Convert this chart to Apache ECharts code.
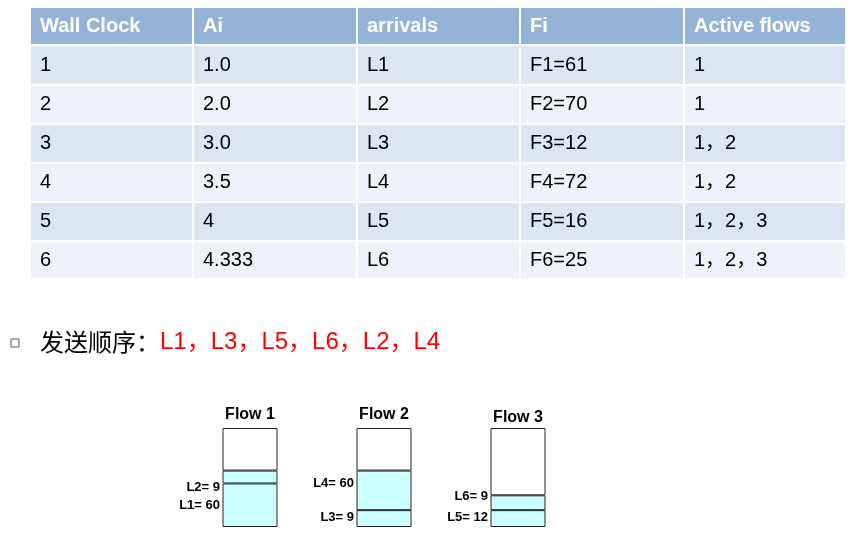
<!DOCTYPE html>
<html><head><meta charset="utf-8">
<script src="https://cdn.jsdelivr.net/npm/echarts@6/dist/echarts.min.js"></script>
<style>html,body{margin:0;padding:0;background:#fff}#c{width:864px;height:547px}</style>
</head><body><div id="c"></div>
<script>
const headers = ['Wall Clock','Ai','arrivals','Fi','Active flows'];
const colWallClock = ['1','2','3','4','5','6'];
const colAi = ['1.0','2.0','3.0','3.5','4','4.333'];
const colArrivals = ['L1','L2','L3','L4','L5','L6'];
const colFi = ['F1=61','F2=70','F3=12','F4=72','F5=16','F6=25'];
const colActive = ['1','1','1，2','1，2','1，2，3','1，2，3'];
const orderPrefix = '发送顺序：';
const orderText = 'L1，L3，L5，L6，L2，L4';
const flows = ['Flow 1','Flow 2','Flow 3'];
// drawn heights of the queued packets (box = 100 units)
const bottomPacket = [44, 17, 17];
const topPacket = [13, 40, 15];
const emptySpace = [43, 43, 68];
const bottomLabels = ['L1= 60','L3= 9','L5= 12'];
const topLabels = ['L2= 9','L4= 60','L6= 9'];

const FAM = 'Liberation Sans, Noto Sans CJK SC, sans-serif';
const cols = [colWallClock, colAi, colArrivals, colFi, colActive];
const colX = [31,194,358,521,685,847];
const rowY = [8,46,86,125,164,203,242,280];
const g = [];
for (let c = 0; c < 5; c++) {
  g.push({type:'rect',shape:{x:colX[c],y:rowY[0],width:colX[c+1]-colX[c]-2,height:rowY[1]-rowY[0]-2},style:{fill:'#95B3D7'}});
  g.push({type:'text',x:colX[c]+9,y:(rowY[0]+rowY[1])/2-1,style:{text:headers[c],fill:'#fff',fontFamily:FAM,fontSize:20,fontWeight:'bold',verticalAlign:'middle'}});
  for (let r = 0; r < 6; r++) {
    g.push({type:'rect',shape:{x:colX[c],y:rowY[r+1],width:colX[c+1]-colX[c]-2,height:rowY[r+2]-rowY[r+1]-2},style:{fill:r%2===0?'#DCE6F1':'#EEF2F8'}});
    g.push({type:'text',x:colX[c]+9,y:(rowY[r+1]+rowY[r+2])/2-1,style:{text:cols[c][r],fill:'#000',fontFamily:FAM,fontSize:20,verticalAlign:'middle'}});
  }
}
g.push({type:'rect',shape:{x:11,y:339,width:8,height:8},style:{fill:'#fff',stroke:'#555',lineWidth:1}});
g.push({type:'text',x:40,y:342,style:{text:'{a|'+orderPrefix+'}{b|'+orderText+'}',verticalAlign:'middle',rich:{a:{fill:'#000',fontFamily:'Noto Sans CJK SC',fontSize:24},b:{fill:'#FF0000',fontFamily:FAM,fontSize:24}}}});
const fx = [250,384,518];
const fty = [415,415,418];
const topLy = [487,483,496], botLy = [505,517,517];
for (let i = 0; i < 3; i++) {
  g.push({type:'text',x:fx[i],y:fty[i],style:{text:flows[i],fill:'#000',fontFamily:FAM,fontSize:16,fontWeight:'bold',align:'center',verticalAlign:'middle'}});
  g.push({type:'text',x:fx[i]-30,y:topLy[i],style:{text:topLabels[i],fill:'#000',fontFamily:FAM,fontSize:13,fontWeight:'bold',align:'right',verticalAlign:'middle'}});
  g.push({type:'text',x:fx[i]-30,y:botLy[i],style:{text:bottomLabels[i],fill:'#000',fontFamily:FAM,fontSize:13,fontWeight:'bold',align:'right',verticalAlign:'middle'}});
}
const chart = echarts.init(document.getElementById('c'));
const barStyle = fill => ({color:fill,borderColor:'#222',borderWidth:1});
chart.setOption({
  animation:false,
  grid:{left:183,right:864-585,top:428,bottom:547-527},
  xAxis:{type:'category',data:flows,show:false},
  yAxis:{type:'value',min:0,max:100,show:false},
  series:[
    {type:'bar',stack:'q',data:bottomPacket,barWidth:55,itemStyle:barStyle('#CCFFFF')},
    {type:'bar',stack:'q',data:topPacket,barWidth:55,itemStyle:barStyle('#CCFFFF')},
    {type:'bar',stack:'q',data:emptySpace,barWidth:55,itemStyle:barStyle('#FFFFFF')}
  ],
  graphic:g
});
</script></body></html>
